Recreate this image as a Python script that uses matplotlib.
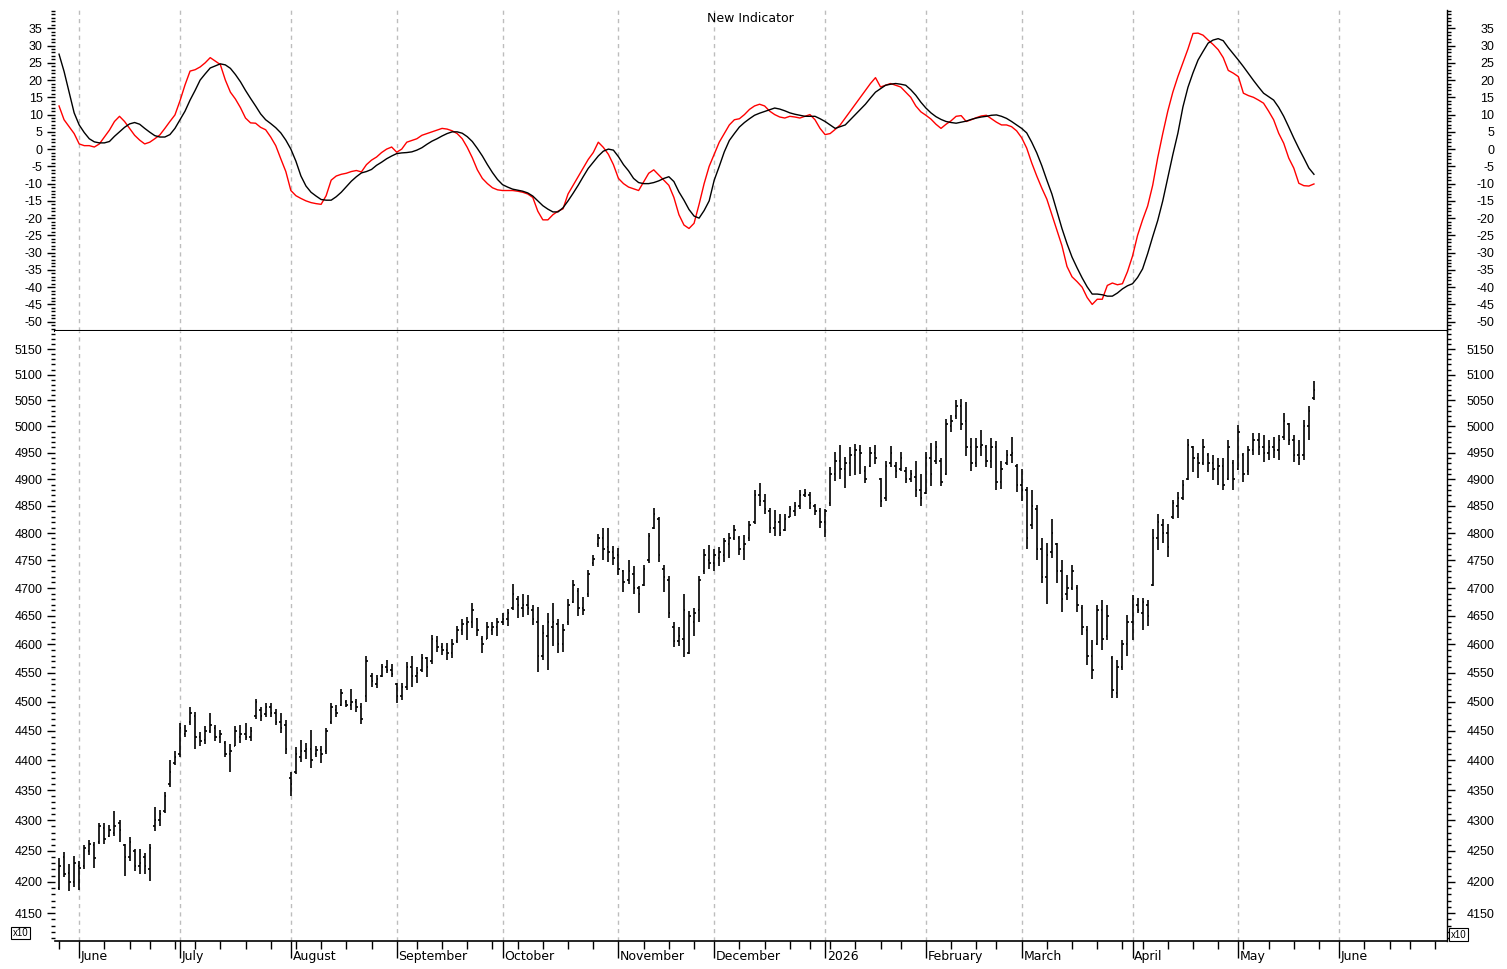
import matplotlib
matplotlib.use("Agg")
import matplotlib.pyplot as plt
import numpy as np
import pandas as pd
from matplotlib.collections import LineCollection
from matplotlib.ticker import FixedLocator, NullFormatter

# ---------------- data ----------------
start_date = "2025-05-27"
axis_end_date = "2026-06-30"
holidays = ["2025-06-19", "2025-07-04", "2025-09-01", "2025-11-27", "2025-12-25",
            "2026-01-01", "2026-01-19", "2026-02-16", "2026-04-03", "2026-05-25", "2026-06-19"]

month_labels = ["June", "July", "August", "September", "October", "November", "December",
                "2026", "February", "March", "April", "May", "June"]

highs = [4238,4248,4229,4241,4234,4259,4268,4265,4295,4295,
         4292,4315,4300,4262,4273,4253,4253,4247,4262,4322,
         4317,4347,4400,4415,4463,4460,4490,4482,4448,4458,
         4480,4460,4452,4432,4427,4458,4460,4463,4457,4505,
         4490,4498,4497,4488,4480,4468,4380,4422,4434,4429,
         4452,4425,4425,4455,4497,4495,4522,4502,4522,4505,
         4497,4580,4550,4547,4566,4573,4565,4533,4533,4568,
         4579,4560,4582,4577,4617,4614,4602,4602,4609,4633,
         4645,4648,4673,4647,4614,4639,4640,4647,4655,4662,
         4708,4685,4689,4687,4669,4666,4634,4655,4673,4645,
         4636,4680,4715,4700,4684,4733,4760,4798,4809,4809,
         4777,4773,4733,4750,4740,4703,4742,4800,4847,4829,
         4742,4722,4640,4631,4689,4659,4664,4722,4770,4778,
         4770,4775,4790,4800,4815,4795,4797,4823,4880,4893,
         4872,4846,4843,4836,4836,4850,4857,4880,4881,4876,
         4853,4846,4845,4923,4951,4965,4941,4961,4967,4965,
         4925,4960,4965,4903,4935,4962,4932,4952,4922,4918,
         4935,4910,4952,4968,4972,4940,5015,5022,5050,5053,
         5046,4977,4977,4993,4965,4977,4972,4935,4955,4980,
         4929,4920,4886,4880,4852,4790,4781,4825,4781,4750,
         4723,4741,4705,4669,4633,4607,4669,4678,4669,4580,
         4572,4607,4651,4687,4682,4682,4678,4808,4835,4825,
         4817,4861,4876,4898,4976,4963,4950,4976,4950,4945,
         4939,4939,4974,4936,5002,4950,4963,4988,4988,4983,
         4974,4980,4983,5025,5007,4983,4974,5012,5040,5087]

lows = [4187,4208,4186,4192,4187,4221,4243,4223,4262,4261,
        4272,4275,4265,4210,4233,4217,4213,4213,4202,4283,
        4290,4312,4355,4393,4406,4440,4460,4420,4425,4428,
        4447,4432,4430,4405,4380,4424,4429,4434,4432,4470,
        4467,4473,4473,4460,4447,4410,4340,4377,4397,4403,
        4387,4405,4395,4410,4462,4473,4493,4490,4485,4482,
        4462,4500,4525,4524,4543,4550,4542,4497,4502,4520,
        4525,4532,4552,4543,4565,4586,4581,4572,4575,4602,
        4617,4607,4629,4614,4584,4609,4616,4614,4634,4633,
        4660,4647,4648,4651,4634,4552,4573,4555,4597,4584,
        4586,4634,4673,4650,4652,4684,4740,4775,4750,4747,
        4742,4723,4693,4708,4689,4655,4703,4745,4808,4747,
        4692,4647,4595,4597,4578,4582,4614,4640,4725,4735,
        4730,4740,4748,4755,4788,4760,4750,4786,4817,4850,
        4836,4800,4795,4795,4804,4829,4832,4845,4867,4845,
        4834,4810,4793,4850,4896,4900,4884,4906,4907,4910,
        4893,4923,4929,4848,4859,4923,4903,4915,4892,4894,
        4867,4850,4872,4888,4929,4887,4907,4990,5015,4993,
        4944,4915,4923,4944,4923,4921,4880,4881,4927,4930,
        4876,4860,4770,4808,4750,4709,4672,4754,4709,4657,
        4678,4696,4657,4616,4563,4540,4598,4589,4607,4506,
        4506,4554,4580,4607,4656,4625,4633,4703,4769,4781,
        4757,4825,4827,4861,4898,4913,4902,4927,4913,4898,
        4889,4880,4898,4880,4917,4894,4908,4945,4945,4932,
        4936,4940,4936,4974,4964,4932,4927,4936,4974,5050]

opens = [4190,4240,4215,4200,4225,4225,4250,4260,4265,4288,
         4275,4280,4295,4260,4240,4250,4225,4240,4220,4290,
         4300,4315,4360,4395,4410,4445,4465,4475,4440,4435,
         4450,4455,4440,4430,4410,4425,4440,4445,4440,4475,
         4485,4478,4490,4480,4465,4460,4370,4380,4405,4415,
         4420,4410,4418,4415,4465,4485,4495,4500,4495,4500,
         4490,4510,4545,4530,4545,4560,4555,4530,4510,4525,
         4560,4545,4555,4575,4570,4605,4595,4590,4585,4605,
         4625,4635,4640,4645,4610,4610,4625,4630,4640,4645,
         4665,4680,4665,4670,4660,4640,4580,4615,4630,4635,
         4600,4640,4675,4695,4665,4690,4745,4780,4790,4775,
         4765,4760,4730,4715,4725,4700,4705,4750,4810,4825,
         4735,4715,4630,4605,4610,4585,4640,4660,4730,4750,
         4745,4755,4760,4780,4790,4790,4770,4790,4820,4870,
         4860,4840,4810,4820,4805,4830,4840,4850,4870,4870,
         4850,4840,4820,4855,4910,4935,4920,4930,4945,4955,
         4915,4925,4950,4900,4865,4930,4925,4920,4915,4900,
         4905,4880,4875,4940,4935,4935,4910,5000,5020,5040,
         5010,4960,4930,4960,4960,4935,4960,4895,4930,4945,
         4925,4890,4880,4815,4845,4770,4720,4765,4780,4730,
         4690,4700,4700,4665,4625,4580,4600,4660,4615,4575,
         4515,4560,4600,4640,4670,4655,4670,4705,4790,4815,
         4800,4830,4850,4865,4900,4960,4940,4930,4945,4930,
         4920,4925,4900,4930,4920,4945,4915,4955,4975,4960,
         4950,4960,4955,4980,5005,4975,4945,4945,5000,5055]

closes = [4225,4212,4200,4230,4222,4255,4262,4238,4290,4270,
          4285,4290,4285,4240,4265,4225,4230,4225,4255,4300,
          4310,4340,4380,4405,4455,4450,4480,4440,4432,4450,
          4460,4440,4445,4410,4415,4450,4445,4440,4450,4500,
          4475,4490,4480,4465,4455,4420,4360,4410,4415,4420,
          4400,4418,4410,4450,4490,4480,4515,4495,4500,4490,
          4470,4570,4535,4540,4560,4555,4548,4510,4525,4560,
          4545,4550,4575,4560,4610,4595,4590,4585,4600,4625,
          4635,4640,4660,4625,4600,4630,4630,4640,4645,4655,
          4690,4670,4670,4665,4645,4580,4620,4640,4640,4600,
          4625,4670,4705,4665,4660,4725,4752,4790,4770,4765,
          4755,4735,4710,4730,4700,4690,4735,4795,4835,4760,
          4720,4655,4605,4615,4660,4650,4655,4715,4760,4745,
          4760,4765,4785,4790,4805,4770,4780,4815,4870,4860,
          4845,4810,4820,4800,4825,4845,4850,4870,4875,4855,
          4840,4820,4840,4910,4935,4920,4930,4945,4955,4950,
          4900,4950,4940,4860,4925,4950,4915,4940,4900,4910,
          4880,4865,4940,4910,4960,4895,5005,5010,5040,5005,
          4960,4930,4960,4965,4935,4960,4895,4920,4945,4950,
          4890,4880,4790,4850,4770,4720,4760,4800,4730,4680,
          4700,4730,4670,4630,4580,4555,4660,4610,4650,4520,
          4560,4600,4640,4680,4660,4675,4650,4790,4820,4800,
          4775,4855,4865,4890,4965,4940,4930,4960,4930,4920,
          4925,4890,4960,4900,4990,4910,4955,4975,4960,4950,
          4960,4955,4975,5010,4975,4945,4940,5000,5030,5070]

red_line = [12.5,8.5,6.5,4.5,1.5,1,1,0.6,1.5,3.5,
            5.5,8,9.5,8,6,4,2.6,1.5,2,3,
            4.1,6,8,9.9,14,18.6,22.6,23,23.8,25,
            26.5,25.5,24.5,20,16.5,14.5,12,9,7.6,7.5,
            6.3,5.6,3.5,1,-2.8,-6.5,-12,-13.5,-14.3,-15,
            -15.5,-15.8,-16,-13.5,-9,-7.8,-7.3,-7,-6.5,-6.2,
            -6.6,-4.5,-3.2,-2.3,-1,0,0.6,-0.9,0,2,
            2.5,3,4,4.5,5,5.5,6,5.8,5.3,4.5,
            3,0.5,-2.5,-6,-8.5,-10,-11.2,-11.8,-12,-12,
            -12,-12.2,-12.5,-13,-14,-18,-20.5,-20.5,-19,-18,
            -17.3,-13,-10.5,-8,-5.5,-3,-1,2,0.5,-1.5,
            -4.5,-8.5,-10,-11,-11.5,-12,-9.5,-7,-6,-7.5,
            -9,-10.5,-14,-19,-22,-23,-21.5,-16,-10,-5,
            -1.5,2,4.5,7,8.5,8.8,10,11.5,12.5,13,
            12.5,11,10,9.3,9,9.5,9.3,9,9.5,10,
            8.5,6,4.2,4.5,5.7,7,9,11,13,15,
            17,19,20.7,18,18.5,19,18.5,18,16.5,15,
            12.5,10.8,9.8,8.7,7.2,6,7.2,8.2,9.5,9.7,
            8,8.5,9.1,9.6,9.8,8.8,7.8,7,7,6.5,
            5.3,3.3,0.3,-4,-7.8,-11.3,-14.5,-19,-23.5,-28,
            -34,-37,-38.4,-40,-43,-45,-43.5,-43.5,-39.5,-38.8,
            -39.3,-39,-35.5,-31,-25,-20.5,-16.5,-10.5,-2.5,4.5,
            11,16.5,21,25,29,33.5,33.6,33,31.6,30.3,
            28.8,26.5,22.8,22,21,16.2,15.5,15,14.2,13.3,
            11,8.5,4.6,1.7,-2.6,-5.5,-9.9,-10.6,-10.7,-10.1]

black_line = [27.5,22.5,16.5,10.5,7,4.8,3,2.1,1.8,1.8,
              2.2,3.7,5,6.3,7.3,7.7,7.2,6,4.9,3.9,
              3.5,3.5,4.2,6,8.5,11,14.2,17,20,21.8,
              23.5,24.1,24.7,24.4,23.4,21.6,19.5,17,14.7,12.5,
              10.2,8.5,7.4,6.2,4.7,2.6,0,-3.5,-7.8,-10.7,
              -12.5,-13.6,-14.6,-14.8,-14.8,-13.8,-12.5,-10.9,-9.3,-8,
              -6.9,-6.5,-5.9,-4.7,-3.8,-2.8,-2,-1.3,-1.1,-1,
              -0.8,-0.3,0.4,1.4,2.3,3,3.8,4.5,5,5,
              4.6,3.6,2.2,0.2,-2,-4.5,-6.8,-8.8,-10.3,-11,
              -11.6,-11.9,-12.2,-12.7,-13.6,-15,-16.4,-17.4,-18.2,-18.2,
              -17,-15,-12.8,-10.5,-8,-5.6,-3.8,-2,-0.6,0,
              -0.3,-2.2,-4.5,-6.3,-8.5,-9.7,-10,-10,-9.7,-9.2,
              -8.5,-8,-9.4,-12.4,-14.8,-17.5,-19.4,-20,-17.8,-15,
              -9,-5,-0.8,2.5,4.5,6.4,7.7,8.8,9.8,10.4,
              10.9,11.4,11.9,11.6,11.1,10.5,10.1,9.8,9.5,9.5,
              9.5,8.8,8,7,6,6.5,7,8.5,10,11.5,
              13,14.8,16.5,17.5,18.5,18.8,19,18.8,18.5,17.2,
              15.6,13.6,11.9,10.5,9.4,8.6,8,7.7,7.5,7.8,
              8.1,8.6,9,9.3,9.5,9.8,9.9,9.5,8.9,8,
              7,6,4.7,2,-1.1,-4.8,-9,-13,-18,-23,
              -27.4,-31.3,-34.4,-37.3,-39.9,-42,-42,-42.2,-42.6,-42.6,
              -41.7,-40.5,-39.6,-39,-37.2,-34.7,-30.3,-25.4,-20.7,-15,
              -8.3,-1.6,4.6,12.2,17.9,22.1,25.8,28.3,30.7,31.6,
              32,31.4,29.4,27.6,25.8,23.9,21.9,19.9,18,16.2,
              15.2,14.2,12.1,9.5,6.4,3.2,0.2,-2.6,-5.5,-7.3]

ind_ticks = list(range(-50, 36, 5))
price_ticks = list(range(4150, 5151, 50))

# ---------------- figure ----------------
plt.rcParams['font.family'] = ['Liberation Sans', 'DejaVu Sans']
W, H = 1507, 969
fig = plt.figure(figsize=(W / 100, H / 100), dpi=100)

days = pd.bdate_range(start_date, axis_end_date, freq="C", holidays=holidays)
n_bars = len(highs)
x = np.arange(n_bars)
month_start = [i for i in range(1, len(days)) if days[i].month != days[i - 1].month]
week_start = [0] + [i for i in range(1, len(days)) if days[i].weekday() < days[i - 1].weekday()]
xlim = (-0.8, len(days) + 0.4)

L = 55 / W
Wd = 1392 / W
ax1 = fig.add_axes([L, 1 - 331 / H, Wd, 321 / H])
ax2 = fig.add_axes([L, 1 - 941 / H, Wd, 610 / H])

grid_kw = dict(color="#bdbdbd", lw=1.0, ls=(0, (3, 3)), zorder=0)

# ---- indicator panel ----
for m in month_start:
    ax1.axvline(m, **grid_kw)
ax1.plot(x, red_line, color="#ff0000", lw=1.0, zorder=3)
ax1.plot(x, black_line, color="black", lw=1.0, zorder=3)
ax1.set_xlim(*xlim)
ind_ylim = (-52.7, 40.3)
ax1.set_ylim(*ind_ylim)
ax1.set_xticks([])
ax1.set_yticks(ind_ticks, labels=[str(v) for v in ind_ticks])
ax1.yaxis.set_minor_locator(FixedLocator(list(range(-52, 41))))
ax1.yaxis.set_minor_formatter(NullFormatter())
ax1.tick_params(axis="y", which="major", length=6, width=1, direction="out", pad=2.9, labelsize=9)
ax1.tick_params(axis="y", which="minor", length=3, width=1, direction="out")
for s in ["left", "top", "right"]:
    ax1.spines[s].set_visible(False)
ax1.spines["bottom"].set_linewidth(1.5)

r1 = ax1.twinx()
r1.set_ylim(*ind_ylim)
r1.set_yticks(ind_ticks, labels=[str(v) for v in ind_ticks], ha="right")
r1.yaxis.set_minor_locator(FixedLocator(list(range(-52, 41))))
r1.yaxis.set_minor_formatter(NullFormatter())
r1.tick_params(axis="y", which="major", length=6, width=1, direction="out", pad=28, labelsize=9)
r1.tick_params(axis="y", which="minor", length=3, width=1, direction="out")
for s in ["left", "top", "bottom"]:
    r1.spines[s].set_visible(False)
r1.spines["right"].set_linewidth(1.0)

# ---- price panel ----
ax2.set_yscale("log")
for m in month_start:
    ax2.axvline(m, **grid_kw)
segs = []
for i in range(n_bars):
    segs.append([(x[i], lows[i]), (x[i], highs[i])])
    segs.append([(x[i] - 0.3, opens[i]), (x[i], opens[i])])
    segs.append([(x[i], closes[i]), (x[i] + 0.3, closes[i])])
ax2.add_collection(LineCollection(segs, colors="black", linewidths=1.2, zorder=3))
ax2.set_xlim(*xlim)
price_ylim = (4106, 5186)
ax2.set_ylim(*price_ylim)
ax2.set_yticks(price_ticks, labels=[str(v) for v in price_ticks])
ax2.yaxis.set_minor_locator(FixedLocator(list(range(4110, 5190, 10))))
ax2.yaxis.set_minor_formatter(NullFormatter())
ax2.tick_params(axis="y", which="major", length=6, width=1, direction="out", pad=2.9, labelsize=9)
ax2.tick_params(axis="y", which="minor", length=3, width=1, direction="out")
ax2.set_xticks(month_start)
ax2.set_xticks([w for w in week_start if w not in month_start], minor=True)
ax2.tick_params(axis="x", which="major", length=12, width=1, direction="out", labelbottom=False)
ax2.tick_params(axis="x", which="minor", length=6, width=1, direction="out")
for s in ["left", "top", "right"]:
    ax2.spines[s].set_visible(False)
ax2.spines["bottom"].set_linewidth(1.2)

r2 = ax2.twinx()
r2.set_yscale("log")
r2.set_ylim(*price_ylim)
r2.set_yticks(price_ticks, labels=[str(v) for v in price_ticks], ha="right")
r2.yaxis.set_minor_locator(FixedLocator(list(range(4110, 5190, 10))))
r2.yaxis.set_minor_formatter(NullFormatter())
r2.tick_params(axis="y", which="major", length=6, width=1, direction="out", pad=28, labelsize=9)
r2.tick_params(axis="y", which="minor", length=3, width=1, direction="out")
for s in ["left", "top", "bottom"]:
    r2.spines[s].set_visible(False)
r2.spines["right"].set_linewidth(1.0)

for m, lab in zip(month_start, month_labels):
    ax2.annotate(lab, xy=(m, 0), xycoords=("data", "axes fraction"), xytext=(1.2, -6.5),
                 textcoords="offset points", ha="left", va="top", fontsize=9,
                 family="DejaVu Sans", annotation_clip=False)

fig.text(750 / W, 1 - 18 / H, "New Indicator", ha="center", va="center", fontsize=9,
         family="DejaVu Sans")
box = dict(boxstyle="square,pad=0.15", fc="white", ec="black", lw=0.8)
fig.text(20.5 / W, 1 - 933 / H, "x10", ha="center", va="center", fontsize=7, bbox=box)
fig.text(1458.5 / W, 1 - 934.5 / H, "x10", ha="center", va="center", fontsize=7, bbox=box)

fig.savefig("out.png", dpi=100)
